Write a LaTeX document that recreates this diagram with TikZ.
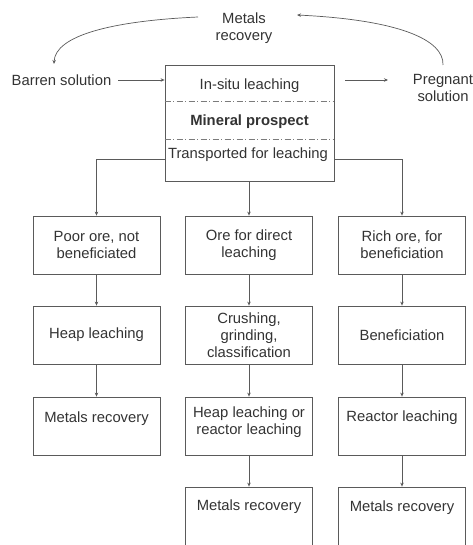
\documentclass[tikz,border=0pt]{standalone}
\usepackage{fontspec}
\setmainfont{Liberation Sans}
\usetikzlibrary{arrows.meta}
\definecolor{ink}{HTML}{333333}
\definecolor{rule}{HTML}{5A5A5A}
\begin{document}
\begin{tikzpicture}[x=1pt,y=-1pt,
  every node/.style={text=ink,font=\fontsize{14.8}{17}\selectfont},
  box/.style={draw=rule,line width=0.8pt,minimum width=127pt,minimum height=58pt,inner sep=0pt,align=center},
  txt/.style={align=center,inner sep=0pt},
  arr/.style={draw=rule,line width=0.7pt,-{Stealth[length=4pt,width=3.5pt]}},
  sep/.style={draw=rule!80,line width=0.6pt,dash pattern=on 6pt off 2.5pt on 1pt off 2.5pt}]
\useasboundingbox (0,0) rectangle (472,545);
\clip (0,0) rectangle (472,545);

% central prospect box
\node[draw=rule,line width=0.8pt,minimum width=169pt,minimum height=116pt,inner sep=0pt] (prospect) at (249.5,123) {};
\node[txt] (insitu) at (249.5,86) {In-situ leaching};
\node[txt,font=\fontsize{14.8}{17}\selectfont\bfseries] (mineral) at (249.5,122) {Mineral prospect};
\node[txt] (transp) at (248,155) {Transported for leaching};
\draw[sep] (prospect.west |- 0,101) -- (prospect.east |- 0,101);
\draw[sep] (prospect.west |- 0,139) -- (prospect.east |- 0,139);
\coordinate (tl) at (prospect.west |- 0,159);
\coordinate (tr) at (prospect.east |- 0,159);

% solutions and recovery loop
\node[txt] (barren) at (61.5,80) {Barren solution};
\node[txt] (pregnant) at (443,88) {Pregnant\\solution};
\node[txt] (toprec) at (244,28) {Metals\\recovery};
\coordinate (barrenend) at (118,80);
\coordinate (pregstart) at (345,80);
\draw[arr] (barrenend) -- (prospect.west |- barrenend);
\draw[arr] (pregstart) -- (388,80);
\draw[arr] (198,17) .. controls (110,21) and (55,36) .. (54,64);
\draw[arr] (443,65) .. controls (444,40) and (400,20) .. (297,15);

% row 1
\node[box] (poor) at (96.5,245) {Poor ore, not\\beneficiated};
\node[box] (direct) at (249,245) {Ore for direct\\leaching};
\node[box] (rich) at (402,245) {Rich ore, for\\beneficiation};
\draw[arr] (tl) -| (poor);
\draw[arr] (prospect.south -| direct) -- (direct);
\draw[arr] (tr) -| (rich);

% row 2
\node[box] (heap) at (96.5,335) {Heap leaching};
\node[box] (crush) at (249,335) {Crushing,\\grinding,\\classification};
\node[box] (benef) at (402,335) {Beneficiation};
\draw[arr] (poor) -- (heap);
\draw[arr] (direct) -- (crush);
\draw[arr] (rich) -- (benef);

% row 3
\node[box] (recA) at (96.5,426) {};
\node[box] (heapreac) at (249,426) {};
\node[box] (reactor) at (402,426) {};
\node[txt] at (96.5,419) {Metals recovery};
\node[txt] at (249,422) {Heap leaching or\\reactor leaching};
\node[txt] at (402,418) {Reactor leaching};
\draw[arr] (heap) -- (recA);
\draw[arr] (crush) -- (heapreac);
\draw[arr] (benef) -- (reactor);

% row 4
\node[box,minimum height=80pt] (recB) at (249,527) {};
\node[box,minimum height=80pt] (recC) at (402,527) {};
\node[txt] at (249,507) {Metals recovery};
\node[txt] at (402,508) {Metals recovery};
\draw[arr] (heapreac) -- (recB);
\draw[arr] (reactor) -- (recC);
\end{tikzpicture}
\end{document}
